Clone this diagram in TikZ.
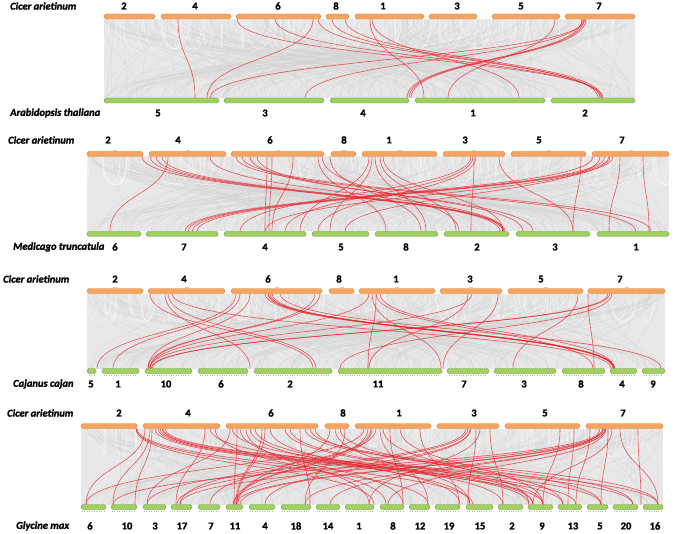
\documentclass[tikz,border=0pt]{standalone}
\usepackage{fontspec}
\setmainfont{Carlito}[BoldFeatures={FakeBold=1.6},BoldItalicFeatures={FakeBold=1.6}]
\definecolor{barorange}{HTML}{F7A45E}
\definecolor{barorangedk}{HTML}{C97F3E}
\definecolor{bargreen}{HTML}{9FD060}
\definecolor{bargreendk}{HTML}{6E9440}
\definecolor{linkred}{HTML}{E8232A}
\tikzset{
  obar/.style={fill=barorange, draw=barorangedk, line width=0.4pt, rounded corners=1.8pt},
  gbar/.style={fill=bargreen, draw=bargreendk, line width=0.4pt, rounded corners=1.8pt},
  redlink/.style={draw=linkred, line width=0.6pt, opacity=0.75},
  graylink/.style={draw=black!17, line width=0.35pt, opacity=0.7},
  whitelink/.style={draw=white, line width=0.45pt, opacity=0.55},
  bgfill/.style={fill=black!9, draw=none},
  sp/.style={font=\bfseries\itshape\fontsize{10.5}{12}\selectfont, anchor=west, inner sep=0pt},
  num/.style={font=\bfseries\fontsize{10.5}{12}\selectfont, inner sep=0pt},
  tick/.style={draw=black!20, line width=0.5pt},
  scale dots/.style={draw=black!30, dotted, line width=0.4pt}
}
\newcommand\grayfield[6]{% xs xe ta tb tm seed
  \fill[bgfill] (#1,#3) -- (#2,#3) -- (#2,#4) -- (#1,#4) -- cycle;
  \pgfmathsetseed{#6}
  \foreach \i in {1,...,230}{
    \pgfmathsetmacro\ga{#1+rnd*(#2-#1)}
    \pgfmathsetmacro\gb{#1+rnd*(#2-#1)}
    \draw[graylink] (\ga,#3) .. controls (\ga,#5) and (\gb,#5) .. (\gb,#4);
  }
  \foreach \i in {1,...,60}{
    \pgfmathsetmacro\ga{#1+rnd*(#2-#1)}
    \pgfmathsetmacro\gb{\ga+(rnd-0.5)*60}
    \draw[whitelink] (\ga,#3) .. controls (\ga,#5) and (\gb,#5) .. (\gb,#3);
  }
}
\begin{document}
\begin{tikzpicture}[x=1pt,y=-1pt]
\useasboundingbox[fill=white] (0,0) rectangle (676,534);

%% ================= Panel 1 =================
\def\ta{19}\def\tb{98}\def\tm{58.5}
\grayfield{104}{635}{\ta}{\tb}{\tm}{11}
\foreach \p/\q in {178/195, 313/207, 237/603, 275/601, 318/600, 332/598, 345/602,
  370/424, 372/519, 555/448, 582/407, 584/409, 586/411, 583/305, 585/210}
  {\draw[redlink] (\p,\ta) .. controls (\p,\tm) and (\q,\tm) .. (\q,\tb);}
\foreach \a/\b/\l/\lx in {104/155/2/124, 161/231/4/195, 236/321/6/278, 326/349/8/336,
  355/424/1/383, 429/477/3/457, 492/560/5/521, 565/635/7/599}
  {\draw[obar] (\a,14) rectangle (\b,19);
   \node[num] (at1-\l) at (\lx,6) {\l};}
\foreach \a/\b/\l/\lx in {104/219/5/158, 224/324/3/265, 330/409/4/363, 415/545/1/473, 551/635/2/585}
  {\draw[gbar] (\a,98) rectangle (\b,103);
   \node[num] (ab1-\l) at (\lx,113) {\l};}
\node[sp] (ca1) at (10,6) {Cicer arietinum};
\node[sp] (at) at (10,113) {Arabidopsis thaliana};

%% ================= Panel 2 =================
\def\ta{156.5}\def\tb{231.5}\def\tm{194}
\grayfield{87}{669}{\ta}{\tb}{\tm}{23}
\foreach \p/\q in {142/503, 150/500, 156/503, 162/505, 168/110, 210/504, 236/636, 242/651,
  250/533, 257/523, 267/265, 272/269, 293/272, 318/386, 322/459, 330/421,
  369/300, 372/330, 375/426, 380/456, 383/503, 471/240, 473/285, 476/318, 474/471,
  499/573, 581/573, 593/185, 605/188, 609/192, 613/197, 610/265, 600/345, 643/649, 620/609}
  {\draw[redlink] (\p,\ta) .. controls (\p,\tm) and (\q,\tm) .. (\q,\tb);}
\foreach \a/\b/\l/\lx in {87/143/2/108, 149/226/4/178, 231/324/6/270, 331/356/8/344,
  362/437/1/389, 443/505/3/465, 511/586/5/539, 592/669/7/622}
  {\draw[obar] (\a,151.5) rectangle (\b,156.5);
   \draw[tick] ({(\a+\b)/2-2},150) -- ({(\a+\b)/2+2},150);
   \node[num] (at2-\l) at (\lx,140) {\l};}
\foreach \a/\b/\l/\lx in {87/141/6/115, 146/218/7/184, 224/306/4/265, 312/369/5/341,
  375/438/8/406, 444/509/2/477, 516/590/3/555, 597/669/1/636}
  {\draw[gbar] (\a,231.5) rectangle (\b,236.5);
   \node[num] (ab2-\l) at (\lx,247) {\l};}
\node[sp] (ca2) at (8,140) {Cicer arietinum};
\node[sp] (mt) at (13,247) {Medicago truncatula};

%% ================= Panel 3 =================
\def\ta{293.5}\def\tb{368.5}\def\tm{331}
\grayfield{87}{665}{\ta}{\tb}{\tm}{37}
\foreach \p/\q in {150/313, 165/250, 168/316, 172/611, 240/113, 236/97, 250/148, 320/148,
  265/614, 270/613, 272/615, 280/661, 315/150, 369/150, 372/441, 376/593, 376/368,
  468/369, 472/149, 498/443, 578/513, 588/594, 608/151, 610/152, 612/340, 380/614}
  {\draw[redlink] (\p,\ta) .. controls (\p,\tm) and (\q,\tm) .. (\q,\tb);}
\draw[redlink, line width=1.1pt] (268,\ta) .. controls (268,\tm) and (614,\tm) .. (614,\tb);
\foreach \a/\b/\l/\lx in {87/143/2/115, 148/225/4/184, 231/322/6/268, 329/354/8/339,
  359/435/1/396, 440/502/3/470, 508/583/5/541, 588/665/7/620}
  {\draw[obar] (\a,288.5) rectangle (\b,293.5);
   \draw[tick] ({(\a+\b)/2-2},287) -- ({(\a+\b)/2+2},287);
   \node[num] (at3-\l) at (\lx,279) {\l};}
\foreach \a/\b/\l/\lx in {87/96/5/91, 102/139/1/118, 145/192/10/166, 198/248/6/221,
  254/332/2/290, 338/442/11/378, 447/489/7/464, 494/556/3/524, 562/605/8/581,
  610/637/4/622, 642/665/9/653}
  {\draw[gbar] (\a,368.5) rectangle (\b,373.5);
   \draw[scale dots] (\a+2,375.5) -- (\b-2,375.5);
   \node[num] (ab3-\l) at (\lx,384) {\l};}
\node[sp] (ca3) at (3,279) {Cicer arietinum};
\node[sp] (cc) at (13,384) {Cajanus cajan};

%% ================= Panel 4 =================
\def\ta{428.5}\def\tb{504.5}\def\tm{466.5}
\grayfield{81}{663}{\ta}{\tb}{\tm}{53}
\foreach \p/\q in {136/374, 136/428, 137/473, 145/86, 150/113, 152/135, 155/543, 158/563,
  160/601, 163/633, 165/658, 162/576, 205/176, 210/529, 215/386,
  230/147, 237/234, 240/403, 246/369, 255/503, 262/236, 265/237, 270/460, 285/533,
  300/310, 305/633, 310/658, 315/601, 330/238, 335/470, 340/563, 345/305,
  364/86, 368/234, 371/210, 376/180, 380/428, 383/529, 390/403, 400/543, 420/459,
  466/147, 468/177, 471/233, 470/265, 476/468, 490/503, 480/369,
  574/568, 560/543, 603/113, 603/236, 604/180, 606/240, 605/305, 606/388, 600/330,
  608/601, 612/533, 638/641, 620/658, 590/576, 250/470, 290/543, 372/236, 232/533}
  {\draw[redlink] (\p,\ta) .. controls (\p,\tm) and (\q,\tm) .. (\q,\tb);}
\foreach \a/\b/\l/\lx in {81/137/2/119, 143/220/4/188, 226/318/6/271, 325/349/8/343,
  355/431/1/399, 437/499/3/474, 505/580/5/545, 586/663/7/623}
  {\draw[obar] (\a,423.5) rectangle (\b,428.5);
   \node[num] (at4-\l) at (\lx,413) {\l};}
\foreach \a/\b/\l/\lx in {81/106/6/90, 111/137/10/127, 143/166/3/155, 171/192/17/182,
  198/220/7/211, 226/243/11/235, 249/275/4/265, 281/311/18/296, 316/340/14/328,
  345/374/1/359, 380/404/8/393, 409/430/12/420, 435/460/19/449, 466/493/15/480,
  498/523/2/512, 528/553/9/542, 558/582/13/573, 587/608/5/600, 613/638/20/626,
  643/663/16/655}
  {\draw[gbar] (\a,504.5) rectangle (\b,509.5);
   \draw[scale dots] (\a+1,511.5) -- (\b-1,511.5);
   \node[num] (ab4-\l) at (\lx,526) {\l};}
\node[sp] (ca4) at (7,413) {Cicer arietinum};
\node[sp] (gm) at (16,526) {Glycine max};
\end{tikzpicture}
\end{document}
